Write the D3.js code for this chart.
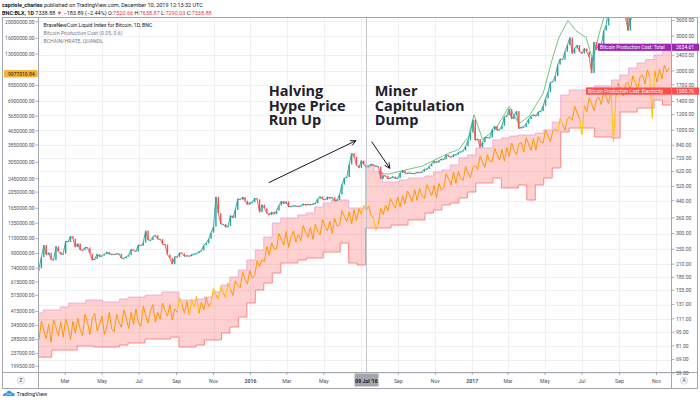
<!DOCTYPE html>
<html>
<head>
<meta charset="utf-8">
<script src="https://cdn.jsdelivr.net/npm/d3@7"></script>
<style>
html, body { margin: 0; padding: 0; background: #fff; }
svg { display: block; font-family: Roboto, "Noto Sans", sans-serif; }
</style>
</head>
<body>
<div id="chart"></div>
<script>
// BNC:BLX with Bitcoin Production Cost band and hash rate, Jan 2015 - Nov 2017

const width = 700;
const height = 402;

// --- data ---
// BLX closes, one every 4 days from 17 Jan 2015
const priceStart = '2015-01-17';
const priceStepDays = 4;
const priceFirstOpen = 195;
const priceClose = [
    200, 228, 262, 234,
    240, 222, 220, 258, 243, 235, 237,
    275, 272, 291, 283, 256, 267, 248, 247,
    255, 255, 237, 220, 223, 236, 229,
    232, 236, 242, 236, 236, 235, 237, 237,
    225, 225, 229, 233, 249, 246, 243, 263,
    260, 270, 310, 278, 278, 289, 294,
    281, 281, 265, 264, 235, 225, 210, 229,
    228, 240, 238, 230, 232, 230, 235, 236,
    238, 243, 246, 262, 268, 282, 303,
    325, 460, 380, 335, 335, 323, 328, 370,
    360, 395, 450, 445, 460, 440, 420, 430,
    // 2016
    432, 453, 447, 385, 420, 403, 380,
    372, 386, 376, 392, 416, 438, 424, 436,
    410, 412, 415, 415, 410, 415, 424,
    417, 423, 419, 424, 427, 450, 462, 448,
    444, 460, 452, 457, 438, 444, 473, 531,
    573, 580, 672, 766, 735, 665, 646,
    703, 670, 650, 657, 674, 665, 655, 655,
    568, 590, 588, 567, 574, 583, 570, 573,
    608, 626, 606, 607, 609, 603, 605,
    613, 611, 616, 636, 637, 657, 678, 699,
    686, 703, 715, 712, 751, 740, 730,
    753, 753, 770, 780, 790, 830, 890, 975,
    // 2017
    1130, 890, 905, 820, 870, 925, 915, 920,
    1010, 1050, 1000, 1010, 1055, 1170, 1190,
    1280, 1140, 1190, 1250, 1020, 1040, 1040, 1080,
    1140, 1180, 1200, 1180, 1240, 1250, 1330,
    1450, 1560, 1750, 1770, 1880, 2150, 2300, 2280,
    2500, 2700, 2950, 2450, 2600, 2700, 2500,
    2450, 2600, 2500, 2350, 1950, 2800, 2550, 2750,
    2700, 3200, 3400, 4200, 4150, 4050, 4350, 4600,
    4600, 4600, 4200, 3200, 3900, 3800, 4200,
    4400, 4300, 4600, 5600, 5600, 6000, 5700, 6150,
    7100, 6950, 6600, 6600, 7800, 8100
];

// upper green trace, from mid 2016
const greenDates = [
    '2016-07-30', '2016-08-03', '2016-08-16', '2016-09-13', '2016-10-11', '2016-11-07',
    '2016-11-23', '2016-12-10', '2016-12-26', '2017-01-04', '2017-01-18', '2017-02-08',
    '2017-03-03', '2017-03-19', '2017-04-05', '2017-04-28', '2017-05-14', '2017-05-24',
    '2017-06-08', '2017-06-21', '2017-07-08', '2017-07-19', '2017-07-29', '2017-08-10',
    '2017-09-01', '2017-09-15', '2017-10-01', '2017-11-22'
];
const greenValues = [
    615, 605, 600, 630, 660, 725,
    765, 800, 930, 1200, 900, 1010,
    1320, 1080, 1180, 1540, 2350, 2950,
    3600, 3200, 2950, 2250, 3050, 4100,
    4900, 3250, 4700, 8400
];

// BCHAIN/HRATE, thousands, one every 4 days from 17 Jan 2015 (left scale)
const hashStart = '2015-01-17';
const hashStepDays = 4;
const hashRateK = [
    285, 365, 320, 290, 350, 275, 370, 335, 300,
    360, 295, 375, 340, 285, 365, 310, 380, 325,
    300, 400, 360, 305, 380, 405, 320, 350,
    390, 305, 340, 410, 330, 315, 400, 360,
    335, 425, 380, 330, 410, 350, 430, 360,
    340, 445, 395, 355, 420, 455, 360, 410,
    375, 465, 420, 390, 455, 370, 430,
    410, 500, 455, 405, 475, 395, 490, 440, 510, 405, 470, 425, 500, 445,
    465, 570, 520, 490, 580, 530,
    500, 610, 560, 515, 625, 590,
    570, 700, 640, 600, 720, 650,
    670, 820, 760, 830,
    810, 990, 880, 1040, 960,
    960, 1180, 1080, 1010, 1210, 980, 1130, 1220, 1050, 1160,
    1070, 1310, 1200, 1120, 1280, 1090, 1330, 1210,
    1160, 1420, 1300, 1220, 1390, 1180, 1440, 1300,
    1320, 1600, 1480, 1380, 1570, 1340, 1620, 1400, 1640,
    1520, 1720, 1600, 1700, 1500,
    1450, 1230, 1340, 1650, 1520, 1720,
    1600, 1880, 1750, 1650, 1920, 1680, 1950,
    1750, 2080, 1950, 1800, 2120, 1830, 2150, 1950,
    1880, 2260, 2100, 1950, 2240, 1900, 2300, 2100,
    2180, 2620, 2450, 2250, 2680, 2300, 2700, 2450,
    2400, 2880, 2650, 2480, 2850, 2920,
    2780, 3320, 3050, 2850, 3380, 3100,
    3080, 3680, 3400, 3150, 3620, 3100, 3720,
    3300, 3950, 3600, 3380, 3900, 3980,
    3500, 4250, 3900, 3580, 4200, 3600, 4300, 4000,
    3950, 4700, 4350, 4000, 4650, 4750,
    4600, 5500, 5100, 4700, 5450, 5600,
    5350, 6450, 5900, 5450, 4400, 6500,
    6000, 7200, 6700, 6100, 7100, 7300,
    6600, 7900, 7300, 6700, 7850, 4000,
    7300, 8800, 8100, 7400, 8700, 8900,
    8000, 9700, 8900, 8100, 9600, 9800,
    8700, 10500, 9600, 5500, 10400, 8900, 10600,
    9300, 11200, 10200, 10800
];

// production cost band, steps every 14 days from 10 Jan 2015
const bandStart = '2015-01-10';
const bandStepDays = 14;
const bandTotal = [
    118.8, 123.0, 123.0, 127.4, 133.4, 133.4, 138.1, 138.1, 135.0, 135.0,
    139.8, 143.0, 143.0, 146.4, 146.4, 151.7, 151.7, 138.1, 138.1, 139.8,
    143.0, 151.7, 164.6, 180.7, 196.0, 220.3, 247.6, 288.1, 339.2, 359.6,
    359.6, 372.4, 381.3, 408.9, 428.4, 443.6, 443.6, 404.2, 404.2, 667.5,
    615.1, 547.3, 547.3, 560.0, 573.5, 573.5, 587.0, 615.1, 630.0, 667.5,
    724.2, 749.6, 813.7, 813.7, 893.1, 914.1, 935.0, 946.7, 946.7, 968.9,
    1004, 1100, 1510, 1600, 1600, 1638, 1677, 1677, 1798, 1906,
    2069, 2193, 2280, 2407, 2553
];
const bandElectricity = [
    71.0, 71.0, 77.1, 77.1, 77.1, 80.8, 80.8, 79.9, 79.9, 79.9,
    81.7, 83.7, 83.7, 87.7, 87.7, 87.7, 89.7, 79.9, 79.9, 81.7,
    86.7, 86.7, 94.0, 100.9, 113.3, 133.4, 155.3, 168.5, 189.3, 212.8,
    212.8, 220.3, 225.6, 225.6, 241.8, 241.8, 268.7, 212.8, 207.8, 320.0,
    320.0, 320.0, 331.4, 331.4, 351.3, 351.3, 381.3, 394.8, 418.5, 428.4,
    454.2, 487.1, 541.0, 541.0, 573.5, 510.5, 510.5, 528.7, 443.6, 528.7,
    573.5, 644.6, 980.5, 1027, 1027, 1027, 925, 925, 914.1, 1238,
    1238, 1297, 1297, 1424, 1343
];

// last-value labels
const lastTotal = 2634.61;
const lastElectricity = 1580.76;
const lastHash = 9977010.84;

// axes
const leftTicks = [20000000, 16000000, 13000000, 10000000, 8500000, 6900000, 5650000, 4650000,
    3850000, 3050000, 2450000, 2050000, 1650000, 1350000, 1100000, 900000, 740000, 615000,
    515000, 415000, 345000, 285000, 237000, 199500];
const rightTicks = [3600, 3000, 2400, 2000, 1700, 1400, 1200, 1000, 840, 720, 620, 520, 440,
    360, 300, 250, 210, 180, 155, 131, 111, 95, 81, 69, 59];
const timeTicks = [
    ['2015-03-01', 'Mar'], ['2015-05-01', 'May'], ['2015-07-01', 'Jul'], ['2015-09-01', 'Sep'],
    ['2015-11-01', 'Nov'], ['2016-01-01', '2016'], ['2016-03-01', 'Mar'], ['2016-05-01', 'May'],
    ['2016-07-01', 'Jul'], ['2016-09-01', 'Sep'], ['2016-11-01', 'Nov'], ['2017-01-01', '2017'],
    ['2017-03-01', 'Mar'], ['2017-05-01', 'May'], ['2017-07-01', 'Jul'], ['2017-09-01', 'Sep'],
    ['2017-11-01', 'Nov']
];
const crossDate = '2016-07-09';
const crossLabel = "09 Jul '16";

// annotations, anchored in date / price
const notes = [
    { date: '2016-01-31', price: 1490, lines: ['Halving', 'Hype Price', 'Run Up'] },
    { date: '2016-07-24', price: 1490, lines: ['Miner', 'Capitulation', 'Dump'] }
];
const arrows = [
    { from: ['2016-01-31', 543], to: ['2016-06-23', 886] },
    { from: ['2016-07-19', 876], to: ['2016-08-18', 642] }
];

// --- layout ---
const plot = { left: 39, right: 671, top: 17.5, bottom: 372.5 };
const DAY = 86400000;
const parse = d3.utcParse('%Y-%m-%d');
const addDays = (s, n) => new Date(parse(s).getTime() + n * DAY);

const x = d3.scaleUtc()
    .domain([parse('2015-01-17'), parse('2017-11-25')])
    .range([plot.left, plot.right]);
const yR = d3.scaleLog().domain([59, 3600]).range([373, 20.5]);
const yL = d3.scaleLog().domain([199500, 20000000]).range([366.3, 21.7]);

const svg = d3.select('#chart').append('svg')
    .attr('width', width)
    .attr('height', height);

svg.append('rect').attr('width', width).attr('height', height).attr('fill', '#fff');

const defs = svg.append('defs');
defs.append('clipPath').attr('id', 'plotclip')
    .append('rect')
    .attr('x', plot.left).attr('y', plot.top)
    .attr('width', plot.right - plot.left).attr('height', plot.bottom - plot.top);

// header
const head = svg.append('g').attr('font-size', 5.5).attr('fill', '#131722');
const h1 = head.append('text').attr('x', 2).attr('y', 7);
h1.append('tspan').attr('font-weight', 'bold').text('capriole_charles');
h1.append('tspan').text(' published on TradingView.com, December 10, 2019 12:13:32 UTC');
const h2 = head.append('text').attr('x', 2).attr('y', 14.5);
h2.append('tspan').attr('font-weight', 'bold').text('BNC:BLX, 1D');
h2.append('tspan').text(' 7338.88 ');
h2.append('tspan').attr('fill', '#f23645').text('\u25BC');
h2.append('tspan').text(' \u2212183.89 (\u22122.44%) O:');
h2.append('tspan').attr('fill', '#f23645').text('7520.66');
h2.append('tspan').text(' H:');
h2.append('tspan').attr('fill', '#f23645').text('7638.87');
h2.append('tspan').text(' L:');
h2.append('tspan').attr('fill', '#f23645').text('7290.03');
h2.append('tspan').text(' C:');
h2.append('tspan').attr('fill', '#f23645').text('7338.88');

// grid
const grid = svg.append('g').attr('stroke', '#eef0f4').attr('stroke-width', 1);
timeTicks.forEach(([d]) => {
    const gx = Math.round(x(parse(d))) + 0.5;
    grid.append('line').attr('x1', gx).attr('x2', gx).attr('y1', plot.top).attr('y2', plot.bottom);
});
rightTicks.forEach(v => {
    const gy = Math.round(yR(v)) + 0.5;
    grid.append('line').attr('x1', plot.left).attr('x2', plot.right).attr('y1', gy).attr('y2', gy);
});

const body = svg.append('g').attr('clip-path', 'url(#plotclip)');

// production cost band
const band = bandTotal.map((v, k) => ({
    date: addDays(bandStart, k * bandStepDays),
    hi: v,
    lo: bandElectricity[k]
}));
band.push({ date: x.domain()[1], hi: bandTotal[bandTotal.length - 1], lo: bandElectricity[bandElectricity.length - 1] });

body.append('path')
    .datum(band)
    .attr('fill', 'rgba(255, 82, 82, 0.27)')
    .attr('d', d3.area().curve(d3.curveStepAfter)
        .x(d => x(d.date)).y0(d => yR(d.lo)).y1(d => yR(d.hi)));
body.append('path')
    .datum(band)
    .attr('fill', 'none').attr('stroke', '#e4a3dc').attr('stroke-width', 0.8)
    .attr('d', d3.line().curve(d3.curveStepAfter).x(d => x(d.date)).y(d => yR(d.hi)));
body.append('path')
    .datum(band)
    .attr('fill', 'none').attr('stroke', '#ff7070').attr('stroke-width', 0.8)
    .attr('d', d3.line().curve(d3.curveStepAfter).x(d => x(d.date)).y(d => yR(d.lo)));

// hash rate: orange inside the band, gold where it leaves it
const bandT0 = parse(bandStart).getTime();
function bandAt(date) {
    const k = Math.floor((date.getTime() - bandT0) / (bandStepDays * DAY));
    return band[Math.max(0, Math.min(bandTotal.length - 1, k))];
}
const hashPts = hashRateK.map((v, i) => {
    const date = addDays(hashStart, i * hashStepDays);
    return { date, px: x(date), py: yL(v * 1000) };
});
const outside = p => {
    const b = bandAt(p.date);
    return p.py < yR(b.hi) || p.py > yR(b.lo);
};
body.append('g').selectAll('line')
    .data(d3.pairs(hashPts))
    .join('line')
    .attr('x1', d => d[0].px).attr('y1', d => d[0].py)
    .attr('x2', d => d[1].px).attr('y2', d => d[1].py)
    .attr('stroke', d => (outside(d[0]) || outside(d[1])) ? '#ffc107' : '#ff9800')
    .attr('stroke-width', 1);

// green trace
body.append('path')
    .datum(greenDates.map((d, i) => ({ date: parse(d), v: greenValues[i] })))
    .attr('fill', 'none').attr('stroke', '#66bb6a').attr('stroke-width', 0.9)
    .attr('d', d3.line().x(d => x(d.date)).y(d => yR(d.v)));

// candles: thin close-to-close links plus narrow bodies
const candles = priceClose.map((c, i) => ({
    date: addDays(priceStart, i * priceStepDays),
    o: i === 0 ? priceFirstOpen : priceClose[i - 1],
    c
}));
const candleColor = d => d.c >= d.o ? '#26a69a' : '#ef5350';
body.append('g').selectAll('line')
    .data(d3.pairs(candles))
    .join('line')
    .attr('x1', d => x(d[0].date)).attr('y1', d => yR(d[0].c))
    .attr('x2', d => x(d[1].date)).attr('y2', d => yR(d[1].c))
    .attr('stroke', d => candleColor(d[1]))
    .attr('stroke-width', 0.9);
body.append('g').selectAll('rect')
    .data(candles)
    .join('rect')
    .attr('x', d => x(d.date) - 0.7)
    .attr('width', 1.4)
    .attr('y', d => Math.min(yR(d.o), yR(d.c)))
    .attr('height', d => Math.max(1, Math.abs(yR(d.o) - yR(d.c))))
    .attr('fill', candleColor);

// crosshair
const cx = Math.round(x(parse(crossDate))) + 0.5;
svg.append('line')
    .attr('x1', cx).attr('x2', cx).attr('y1', plot.top).attr('y2', plot.bottom)
    .attr('stroke', '#c3c5cb').attr('stroke-width', 1);

// legend
const legend = svg.append('g').attr('font-size', 5.2);
legend.append('text').attr('x', 43.5).attr('y', 26.5).attr('fill', '#131722')
    .text('BraveNewCoin Liquid Index for Bitcoin, 1D, BNC');
legend.append('text').attr('x', 43.5).attr('y', 34.5).attr('fill', '#787b86')
    .text('Bitcoin Production Cost (0.05, 0.6)');
legend.append('text').attr('x', 43.5).attr('y', 42.5).attr('fill', '#787b86')
    .text('BCHAIN/HRATE, QUANDL');

// annotations
const ann = svg.append('g')
    .attr('font-family', '"Open Sans", "DejaVu Sans", sans-serif')
    .attr('font-weight', 'bold')
    .attr('font-size', 14.5)
    .attr('fill', '#1e222d');
notes.forEach(n => {
    const t = ann.append('text').attr('x', x(parse(n.date))).attr('y', yR(n.price));
    n.lines.forEach((l, i) => t.append('tspan')
        .attr('x', x(parse(n.date)))
        .attr('dy', i === 0 ? 0 : 14.5)
        .text(l));
});
const arr = svg.append('g').attr('stroke', '#131722').attr('stroke-width', 1).attr('fill', 'none');
arrows.forEach(a => {
    const x1 = x(parse(a.from[0])), y1 = yR(a.from[1]);
    const x2 = x(parse(a.to[0])), y2 = yR(a.to[1]);
    const ang = Math.atan2(y2 - y1, x2 - x1);
    const len = 6, spread = 0.45;
    arr.append('line').attr('x1', x1).attr('y1', y1).attr('x2', x2).attr('y2', y2);
    arr.append('path').attr('d',
        `M${x2 - len * Math.cos(ang - spread)},${y2 - len * Math.sin(ang - spread)}` +
        `L${x2},${y2}` +
        `L${x2 - len * Math.cos(ang + spread)},${y2 - len * Math.sin(ang + spread)}`);
});

// frame
const frame = svg.append('g').attr('stroke', '#a3a6af').attr('stroke-width', 1).attr('fill', 'none');
frame.append('rect').attr('x', 2.5).attr('y', plot.top).attr('width', 695).attr('height', 371);
frame.append('line').attr('x1', plot.left - 0.5).attr('x2', plot.left - 0.5).attr('y1', plot.top).attr('y2', 388.5);
frame.append('line').attr('x1', plot.right + 0.5).attr('x2', plot.right + 0.5).attr('y1', plot.top).attr('y2', 388.5);
frame.append('line').attr('x1', 2.5).attr('x2', 697.5).attr('y1', plot.bottom).attr('y2', plot.bottom);

// left axis (the hash-rate tag hides the tick it sits on)
const hy = yL(lastHash);
const axL = svg.append('g').attr('font-size', 5).attr('fill', '#4c525e');
leftTicks.forEach(v => {
    const ty = yL(v);
    axL.append('line').attr('x1', 35.5).attr('x2', 38).attr('y1', ty).attr('y2', ty)
        .attr('stroke', '#787b86').attr('stroke-width', 0.6);
    if (Math.abs(ty - hy) < 7) return;
    axL.append('text').attr('x', 34.5).attr('y', ty + 1.8).attr('text-anchor', 'end').text(v.toFixed(2));
});

// right axis
const axR = svg.append('g').attr('font-size', 5).attr('fill', '#4c525e');
rightTicks.forEach(v => {
    const ty = yR(v);
    if (ty > plot.bottom + 2) return;
    axR.append('line').attr('x1', 672).attr('x2', 674.5).attr('y1', ty).attr('y2', ty)
        .attr('stroke', '#787b86').attr('stroke-width', 0.6);
    axR.append('text').attr('x', 676).attr('y', ty + 1.8).text(v.toFixed(2));
});

// time axis
const axT = svg.append('g').attr('font-size', 5.2).attr('fill', '#4c525e').attr('text-anchor', 'middle');
timeTicks.forEach(([d, label]) => {
    const tx = x(parse(d));
    if (Math.abs(tx - cx) < 14) return;
    axT.append('line').attr('x1', tx).attr('x2', tx).attr('y1', plot.bottom).attr('y2', plot.bottom + 2.5)
        .attr('stroke', '#787b86').attr('stroke-width', 0.6);
    axT.append('text').attr('x', tx).attr('y', 382.5)
        .attr('font-weight', /^\d{4}$/.test(label) ? 'bold' : null)
        .text(label);
});
axT.append('rect').attr('x', cx - 12).attr('y', plot.bottom + 1).attr('width', 24).attr('height', 13)
    .attr('fill', '#a3a6af');
axT.append('text').attr('x', cx).attr('y', 382.5).attr('fill', '#131722').attr('font-weight', 'bold')
    .text(crossLabel);

// Z / A buttons
[[21, 'Z'], [684, 'A']].forEach(([bx, t]) => {
    svg.append('circle').attr('cx', bx).attr('cy', 380.5).attr('r', 3.8)
        .attr('fill', '#f0f3fa').attr('stroke', '#c9ccd4').attr('stroke-width', 0.6);
    svg.append('text').attr('x', bx).attr('y', 382.3).attr('text-anchor', 'middle')
        .attr('font-size', 4.8).attr('fill', '#4c525e').text(t);
});

// last value labels
function valueTag(yv, fill, name, value, nameLeft) {
    const g = svg.append('g');
    g.append('rect').attr('x', nameLeft).attr('y', yv - 3.6).attr('width', plot.right - nameLeft)
        .attr('height', 7.2).attr('fill', fill);
    g.append('text').attr('x', nameLeft + 2).attr('y', yv + 1.8).attr('font-size', 4.9)
        .attr('fill', '#fff').text(name);
    g.append('rect').attr('x', plot.right + 1).attr('y', yv - 3.6).attr('width', 27).attr('height', 7.2)
        .attr('fill', fill);
    g.append('text').attr('x', 676).attr('y', yv + 1.8).attr('font-size', 5)
        .attr('fill', '#fff').text(value.toFixed(2));
}
valueTag(yR(lastTotal), '#9c27b0', 'Bitcoin Production Cost: Total', lastTotal, 598);
valueTag(yR(lastElectricity), '#ff4d4d', 'Bitcoin Production Cost: Electricity', lastElectricity, 586);

svg.append('rect').attr('x', 4).attr('y', hy - 3.6).attr('width', 33.5).attr('height', 7.2).attr('fill', '#fbb034');
svg.append('text').attr('x', 34.5).attr('y', hy + 1.8).attr('text-anchor', 'end')
    .attr('font-size', 5).attr('fill', '#1e222d').text(lastHash.toFixed(2));

// TradingView mark
const logo = svg.append('g').attr('transform', 'translate(3,390)');
logo.append('path')
    .attr('d', 'M0,6 C0,3.5 2,2.5 3.5,3 C4,0.5 7.5,0 8.5,2.5 C10.5,2 12,3.5 11.5,6 Z')
    .attr('fill', '#2196f3');
logo.append('path')
    .attr('d', 'M2.5,5.5 L5,3.5 L7,5 L9.5,3')
    .attr('fill', 'none').attr('stroke', '#fff').attr('stroke-width', 0.7);
svg.append('text').attr('x', 16.5).attr('y', 395.5).attr('font-size', 5.6).attr('fill', '#131722')
    .text('TradingView');
</script>
</body>
</html>
